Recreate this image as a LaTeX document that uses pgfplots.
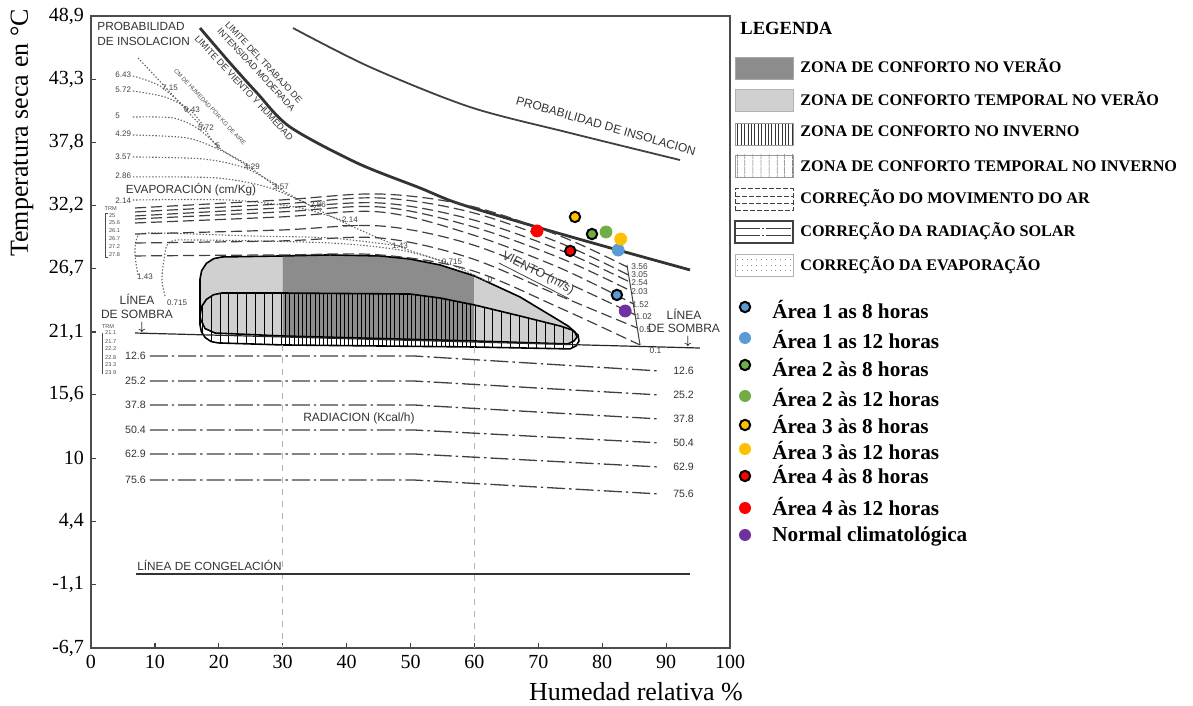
\documentclass[border=0pt]{standalone}
\usepackage{fontspec}
\setmainfont{Liberation Serif}
\setsansfont{Liberation Sans}
\usepackage{pgfplots}
\pgfplotsset{compat=1.18}
\usetikzlibrary{patterns.meta}
\definecolor{cblue}{HTML}{5B9BD5}
\definecolor{cgreen}{HTML}{70AD47}
\definecolor{cyel}{HTML}{FFC000}
\definecolor{cred}{HTML}{FF0000}
\definecolor{cpur}{HTML}{7030A0}
\definecolor{zdark}{HTML}{8C8C8C}
\definecolor{zlight}{HTML}{D0D0D0}
\newcommand{\fs}[1]{\fontsize{#1}{#1}\selectfont}
\pgfplotsset{
 wind/.style={draw=black!75, line width=0.6pt, dash pattern=on 5.5pt off 2.5pt, smooth, tension=0.55},
 rad/.style={draw=black!75, line width=0.65pt, dash pattern=on 9pt off 2pt on 1.2pt off 2pt},
 evap/.style={draw=black!60, line width=0.55pt, dash pattern=on 0.7pt off 0.9pt, smooth, tension=0.5},
 dense/.style={draw=none, pattern={Lines[angle=90,distance=2.1pt,line width=0.45pt]}, pattern color=black},
 sparse/.style={draw=none, pattern={Lines[angle=90,distance=4.4pt,line width=0.45pt]}, pattern color=black},
}
\tikzset{lab/.style={font=\sffamily\fs{4}, text=black!75, inner sep=0.5pt},
 labw/.style={font=\sffamily\fs{4.2}, text=black!75, inner sep=0.5pt, anchor=west},
 lab2/.style={font=\sffamily\fs{5.3}, text=black!80, inner sep=0.5pt},
 trm/.style={font=\sffamily\fs{2.8}, text=black!70, inner sep=0.2pt, anchor=west}}
\begin{document}
\begin{tikzpicture}[x=1pt,y=1pt]
\path[use as bounding box] (-45.5,-29) rectangle (551,324);
\begin{axis}[at={(0,0)}, anchor=south west, scale only axis,
 width=319.5pt, height=316pt,
 xmin=0, xmax=100, ymin=-6.7, ymax=48.9,
 xtick={0,10,...,100},
 ytick={-6.7,-1.1,4.4,10,15.6,21.1,26.7,32.2,37.8,43.3,48.9},
 yticklabels={{-6,7},{-1,1},{4,4},{10},{15,6},{21,1},{26,7},{32,2},{37,8},{43,3},{48,9}},
 tick align=inside, major tick length=2.5pt, tick pos=left,
 tick style={black!75, line width=0.6pt},
 axis line style={black!70, line width=0.7pt},
 tick label style={font=\fs{10}},
 /pgf/number format/assume math mode=true,
 clip=false]

% summer comfort zone fills
\addplot[fill=zlight, draw=none] coordinates {(17.06,22.33)(17.06,25.76)(17.32,26.50)(18.06,27.14)(19.19,27.55)(20.50,27.70)(30,27.79)(30,20.75)(19.41,21.01)(17.85,21.40)} -- cycle;
\addplot[fill=zdark, draw=none] coordinates {(30,27.79)(37.40,27.88)(45.23,27.79)(49.92,27.52)(54.62,27.00)(60,26.03)(60,20.31)(30,20.75)} -- cycle;
\addplot[fill=zlight, draw=none] coordinates {(60,26.03)(67.14,24.18)(72.61,22.33)(74.65,21.63)(75.74,21.10)(76.06,20.66)(75.59,20.31)(74.65,20.05)(60,20.31)} -- cycle;
% winter comfort zone hatching
\addplot[sparse] coordinates {(17.06,21.72)(17.06,22.60)(17.32,23.34)(18.06,23.97)(19.19,24.38)(20.50,24.53)(30,24.53)(30,19.96)(19.87,20.14)(18.79,20.26)(17.89,20.60)(17.28,21.11)} -- cycle;
\addplot[dense] coordinates {(30,24.53)(49.92,24.44)(54.62,24.09)(60,23.48)(60,19.78)(30,19.96)} -- cycle;
\addplot[sparse] coordinates {(60,23.48)(67.14,22.51)(73.40,21.63)(75.27,21.28)(76.21,20.84)(76.37,20.31)(75.90,19.87)(74.96,19.61)(60,19.78)} -- cycle;
% outlines
\addplot[black, line width=0.8pt] coordinates {(17.06,22.33)(17.06,25.76)(17.32,26.50)(18.06,27.14)(19.19,27.55)(20.50,27.70)(30,27.79)(37.40,27.88)(45.23,27.79)(49.92,27.52)(54.62,27.00)(60,26.03)(67.14,24.18)(72.61,22.33)(74.65,21.63)(75.74,21.10)(76.06,20.66)(75.59,20.31)(74.65,20.05)(60,20.31)(30,20.75)(19.41,21.01)(17.85,21.40)} -- cycle;
\addplot[black, line width=0.8pt] coordinates {(17.06,22.60)(17.32,23.34)(18.06,23.97)(19.19,24.38)(20.50,24.53)(30,24.53)(49.92,24.44)(54.62,24.09)(60,23.48)(67.14,22.51)(73.40,21.63)(75.27,21.28)(76.21,20.84)(76.37,20.31)(75.90,19.87)(74.96,19.61)(60,19.78)(30,19.96)(19.87,20.14)(18.79,20.26)(17.89,20.60)(17.28,21.11)(17.06,21.72)} -- cycle;

% vertical guide lines
\addplot[black!30, dashed, line width=0.4pt] coordinates {(30,19.96)(30,-6.7)};
\addplot[black!30, dashed, line width=0.4pt] coordinates {(60,19.78)(60,-6.7)};

% shade line and freezing line
\addplot[black!85, line width=0.6pt] coordinates {(6.89,21.01)(95.3,19.69)};
\addplot[black!80, line width=0.6pt] coordinates {(7.04,-0.19)(93.7,-0.19)};

% top curve: probabilidad de insolacion
\addplot[black!75, line width=0.9pt, smooth] coordinates {(31.61,47.84)(43.66,44.41)(59.31,40.89)(74.96,38.61)(92.18,36.23)};
% limit line
\addplot[black!80, line width=1.4pt, smooth, tension=0.5] coordinates {(17.06,47.84)(21.75,44.77)(25.98,42.13)(31.14,39.14)(41.63,35.97)(51.49,33.77)(57.28,32.45)(68.70,30.51)(79.66,28.75)(93.74,26.56)};

% evaporation dotted lines
\addplot[evap] coordinates {(7.36,45.21)(12.05,42.39)(15.18,40.45)(17.84,38.87)(19.87,37.38)(25.20,35.44)(29.58,33.68)(34.74,32.10)(40.06,30.60)(48.36,28.58)(56.18,27.08)(62.13,25.50)};
\addplot[evap] coordinates {(6.57,43.62)(10.80,42.74)(15.18,40.63)};
\addplot[evap] coordinates {(6.57,42.30)(11.58,41.77)(15.49,40.63)(17.84,39.05)};
\addplot[evap] coordinates {(6.57,40.01)(12.83,39.93)(16.59,39.05)(19.87,37.46)};
\addplot[evap] coordinates {(6.57,38.43)(15.02,38.17)(20.19,37.11)(25.20,35.62)};
\addplot[evap] coordinates {(6.57,36.50)(17.53,36.32)(24.10,35.53)(29.58,33.86)};
\addplot[evap] coordinates {(6.57,34.74)(19.72,34.65)(28.01,33.77)(34.74,32.10)};
\addplot[evap] coordinates {(6.57,32.71)(21.75,32.71)(32.71,32.01)(40.06,30.78)};
\addplot[evap] coordinates {(7.36,26.12)(6.89,27.88)(7.20,29.37)(9.23,29.81)(24.88,29.55)(37.40,29.37)(48.36,28.67)};
\addplot[evap] coordinates {(11.58,24.27)(11.11,25.68)(11.42,27.44)(12.36,29.02)(17.06,29.19)(37.40,28.93)(48.36,28.31)(55.40,27.26)};

% wind lines
\addplot[wind] coordinates {(6.89,32.01)(29.58,32.71)(45.23,33.24)(59.31,32.19)(73.40,29.55)(83.9,26.82)};
\addplot[wind] coordinates {(6.89,31.66)(29.58,32.36)(45.23,32.89)(59.31,31.66)(73.40,28.93)(84.1,26.12)};
\addplot[wind] coordinates {(6.89,31.31)(29.58,32.01)(45.23,32.45)(59.31,31.04)(73.40,28.31)(84.3,25.50)};
\addplot[wind] coordinates {(6.89,31.04)(29.58,31.66)(45.23,32.10)(59.31,30.43)(73.40,27.61)(84.5,24.71)};
\addplot[wind] coordinates {(6.89,30.69)(29.58,31.22)(45.23,31.66)(59.31,29.72)(73.40,26.73)(84.9,23.57)};
\addplot[wind] coordinates {(6.89,29.72)(29.58,30.07)(45.23,30.43)(59.31,28.84)(73.40,25.68)(85.2,22.60)};
\addplot[wind] coordinates {(6.89,28.93)(29.58,29.11)(45.23,29.37)(59.31,27.61)(73.40,24.27)(85.5,21.45)};
\addplot[wind] coordinates {(6.89,27.79)(29.58,27.88)(45.23,27.88)(59.31,26.56)(73.40,23.21)(85.9,19.96)};
\addplot[black!75, line width=0.5pt] coordinates {(83.88,26.99)(85.92,19.96)};

% radiation lines
\addplot[rad] coordinates {(9.2,18.99)(50.5,18.99)(89,17.67)};
\addplot[rad] coordinates {(9.2,16.79)(50.5,16.79)(89,15.56)};
\addplot[rad] coordinates {(9.2,14.68)(50.5,14.68)(89,13.45)};
\addplot[rad] coordinates {(9.2,12.48)(50.5,12.48)(89,11.34)};
\addplot[rad] coordinates {(9.2,10.37)(50.5,10.37)(89,9.22)};
\addplot[rad] coordinates {(9.2,8.08)(50.5,8.08)(89,6.85)};

% data points
\addplot[only marks, mark=*, mark size=2.6pt, mark options={fill=cblue, draw=black, line width=1pt}] coordinates {(82.3,24.36)};
\addplot[only marks, mark=*, mark size=3pt, mark options={fill=cblue, draw=cblue}] coordinates {(82.5,28.31)};
\addplot[only marks, mark=*, mark size=2.6pt, mark options={fill=cgreen, draw=black, line width=1pt}] coordinates {(78.4,29.72)};
\addplot[only marks, mark=*, mark size=3pt, mark options={fill=cgreen, draw=cgreen}] coordinates {(80.6,29.90)};
\addplot[only marks, mark=*, mark size=2.6pt, mark options={fill=cyel, draw=black, line width=1pt}] coordinates {(75.74,31.22)};
\addplot[only marks, mark=*, mark size=3pt, mark options={fill=cyel, draw=cyel}] coordinates {(82.9,29.28)};
\addplot[only marks, mark=*, mark size=2.6pt, mark options={fill=cred, draw=black, line width=1pt}] coordinates {(75.0,28.23)};
\addplot[only marks, mark=*, mark size=3pt, mark options={fill=cred, draw=cred}] coordinates {(69.8,29.99)};
\addplot[only marks, mark=*, mark size=3pt, mark options={fill=cpur, draw=cpur}] coordinates {(83.6,22.95)};

% anchor coordinates for texts placed after the axis
\coordinate (tEvap) at (axis cs:15.65,33.59);
\coordinate (tSomL) at (axis cs:7.2,23.34);
\coordinate (tSomR) at (axis cs:92.8,22.07);
\coordinate (tCong) at (axis cs:7.04,-0.05);

% texts
\node[anchor=north west, align=left, font=\sffamily\fontsize{5.9}{7.4}\selectfont, text=black!80, inner sep=0] at (axis cs:0.94,48.37) {PROBABILIDAD\\DE INSOLACION};
\node[rotate=-16, font=\sffamily\fs{6}, text=black!80] at (axis cs:80.6,39.22) {PROBABILIDAD DE INSOLACION};
\node[rotate=-47, align=center, font=\sffamily\fontsize{4.5}{5.2}\selectfont, text=black!80] at (axis cs:26.45,44.50) {LIMITE DEL TRABAJO DE\\INTENSIDAD MODERADA};
\node[rotate=-47, font=\sffamily\fs{4.6}, text=black!80] at (axis cs:23.94,42.57) {LIMITE DE VIENTO Y HUMEDAD};
\node[rotate=-47, font=\sffamily\fs{3}, text=black!70] at (axis cs:18.62,40.89) {CM DE HUMEDAD POR KG DE AIRE};
\node[lab, anchor=west] at (axis cs:3.6,43.71) {6.43};
\node[lab, anchor=west] at (axis cs:3.6,42.39) {5.72};
\node[lab, anchor=west] at (axis cs:3.6,40.10) {5};
\node[lab, anchor=west] at (axis cs:3.6,38.52) {4.29};
\node[lab, anchor=west] at (axis cs:3.6,36.50) {3.57};
\node[lab, anchor=west] at (axis cs:3.6,34.83) {2.86};
\node[lab, anchor=west] at (axis cs:3.6,32.63) {2.14};
\node[lab] at (axis cs:12.36,42.57) {7.15};
\node[lab] at (axis cs:15.81,40.63) {6.43};
\node[lab] at (axis cs:18.0,39.05) {5.72};
\node[lab] at (axis cs:19.87,37.46) {5};
\node[lab] at (axis cs:25.2,35.62) {4.29};
\node[lab] at (axis cs:29.73,33.86) {3.57};
\node[lab] at (axis cs:35.52,32.27) {2.86};
\node[lab] at (axis cs:40.53,30.78) {\underline{2.14}};
\node[lab] at (axis cs:48.36,28.67) {1.43};
\node[lab] at (axis cs:56.49,27.26) {0.715};
\node[lab] at (axis cs:62.44,25.68) {0};
\node[lab] at (axis cs:8.45,25.94) {1.43};
\node[lab] at (axis cs:13.46,23.65) {0.715};
\node[rotate=-27, font=\sffamily\fs{6.3}, text=black!75] at (axis cs:69.8,26.12) {\underline{VIENTO (m/s)}};
\node[labw] at (axis cs:84.35,26.82) {3.56};
\node[labw] at (axis cs:84.35,26.12) {3.05};
\node[labw] at (axis cs:84.35,25.41) {2.54};
\node[labw] at (axis cs:84.35,24.62) {2.03};
\node[labw] at (axis cs:84.5,23.48) {1.52};
\node[labw] at (axis cs:85.0,22.42) {1.02};
\node[labw] at (axis cs:85.6,21.28) {0.5};
\node[labw] at (axis cs:87.2,19.43) {0.1};
\node[anchor=south, inner sep=0pt, font=\fs{6}] at (axis cs:7.98,20.95) {$\downarrow$};
\node[anchor=south, inner sep=0pt, font=\fs{6}] at (axis cs:93.4,19.75) {$\downarrow$};
\node[lab2, font=\sffamily\fs{6}] at (axis cs:41.94,13.54) {RADIACION (Kcal/h)};
\node[lab2, anchor=east] at (axis cs:8.8,18.99) {12.6};
\node[lab2, anchor=east] at (axis cs:8.8,16.79) {25.2};
\node[lab2, anchor=east] at (axis cs:8.8,14.68) {37.8};
\node[lab2, anchor=east] at (axis cs:8.8,12.48) {50.4};
\node[lab2, anchor=east] at (axis cs:8.8,10.37) {62.9};
\node[lab2, anchor=east] at (axis cs:8.8,8.08) {75.6};
\node[lab2, anchor=west] at (axis cs:90.9,17.67) {12.6};
\node[lab2, anchor=west] at (axis cs:90.9,15.56) {25.2};
\node[lab2, anchor=west] at (axis cs:90.9,13.45) {37.8};
\node[lab2, anchor=west] at (axis cs:90.9,11.34) {50.4};
\node[lab2, anchor=west] at (axis cs:90.9,9.22) {62.9};
\node[lab2, anchor=west] at (axis cs:90.9,6.85) {75.6};
% TRM brackets
\addplot[black!70, line width=0.35pt] coordinates {(2.6,31.57)(2.19,31.57)(2.19,27.70)(2.6,27.70)};
\addplot[black!70, line width=0.35pt] coordinates {(1.9,21.01)(1.72,21.01)(1.72,17.49)(1.9,17.49)};
\node[trm] at (axis cs:2.0,31.95) {TRM};
\node[trm] at (axis cs:2.7,31.31) {25};
\node[trm] at (axis cs:2.7,30.69) {25.6};
\node[trm] at (axis cs:2.7,29.99) {26.1};
\node[trm] at (axis cs:2.7,29.28) {26.7};
\node[trm] at (axis cs:2.7,28.58) {27.2};
\node[trm] at (axis cs:2.7,27.88) {27.8};
\node[trm] at (axis cs:1.6,21.54) {TRM};
\node[trm] at (axis cs:2.1,21.01) {21.1};
\node[trm] at (axis cs:2.1,20.22) {21.7};
\node[trm] at (axis cs:2.1,19.61) {22.2};
\node[trm] at (axis cs:2.1,18.81) {22.8};
\node[trm] at (axis cs:2.1,18.20) {23.3};
\node[trm] at (axis cs:2.1,17.49) {23.9};
\end{axis}

% texts with accented letters
\node[font=\sffamily\fs{5.9}, text=black!80] at (tEvap) {EVAPORACIÓN (cm/Kg)};
\node[align=center, font=\sffamily\fontsize{6}{7.3}\selectfont, text=black!80, inner sep=0.5pt] at (tSomL) {LÍNEA\\DE SOMBRA};
\node[align=center, font=\sffamily\fontsize{6}{6.2}\selectfont, text=black!80, inner sep=0.5pt] at (tSomR) {LÍNEA\\DE SOMBRA};
\node[font=\sffamily\fs{5.9}, text=black!80, inner sep=0.5pt, anchor=south west] at (tCong) {LÍNEA DE CONGELACIÓN};

% axis titles
\node[rotate=90, font=\fs{13}] at (-34.5,257.5) {Temperatura seca en °C};
\node[font=\fs{13}] at (272.5,-22) {Humedad relativa \%};

% legend
\node[anchor=west, font=\bfseries\fs{9.3}, inner sep=0] at (324.5,310) {LEGENDA};
\draw[black!35, fill=zdark] (322,284.5) rectangle (351,295.5);
\draw[black!30, fill=zlight] (322,268.5) rectangle (351,279.5);
\draw[black!40, pattern={Lines[angle=90,distance=1.7pt,line width=0.4pt]}, pattern color=black!80] (322,251.5) rectangle (351,262.5);
\draw[black!40, pattern={Lines[angle=90,distance=4pt,line width=0.4pt]}, pattern color=black!80] (322,235.5) rectangle (351,246.5);
\draw[black!75, line width=0.5pt, dash pattern=on 2.5pt off 1pt] (322,218.5) rectangle (351,229.5);
\draw[black!75, line width=0.5pt, dash pattern=on 2.5pt off 1pt] (322,222.2) -- (351,222.2) (322,225.8) -- (351,225.8);
\draw[black!75, line width=0.6pt] (322,202.5) rectangle (351,213.5);
\draw[black!75, line width=0.6pt, dash pattern=on 12.5pt off 1pt on 0.8pt off 1pt] (322,206.2) -- (351,206.2) (322,209.8) -- (351,209.8);
\draw[black!30] (322,186) rectangle (351,197);
\draw[black!45, dotted] (323,188.8) -- (350,188.8) (323,191.5) -- (350,191.5) (323,194.2) -- (350,194.2);
\node[anchor=west, font=\bfseries\fs{8.1}, inner sep=0] at (354.5,291) {ZONA DE CONFORTO NO VERÃO};
\node[anchor=west, font=\bfseries\fs{8.1}, inner sep=0] at (354.5,274.5) {ZONA DE CONFORTO TEMPORAL NO VERÃO};
\node[anchor=west, font=\bfseries\fs{8.1}, inner sep=0] at (354.5,258.5) {ZONA DE CONFORTO NO INVERNO};
\node[anchor=west, font=\bfseries\fs{8.1}, inner sep=0] at (354.5,241) {ZONA DE CONFORTO TEMPORAL NO INVERNO};
\node[anchor=west, font=\bfseries\fs{8.1}, inner sep=0] at (354.5,225) {CORREÇÃO DO MOVIMENTO DO AR};
\node[anchor=west, font=\bfseries\fs{8.1}, inner sep=0] at (354.5,208.5) {CORREÇÃO DA RADIAÇÃO SOLAR};
\node[anchor=west, font=\bfseries\fs{8.1}, inner sep=0] at (354.5,191.5) {CORREÇÃO DA EVAPORAÇÃO};
\draw[black, line width=1pt, fill=cblue] (327,170.5) circle (2.6);
\fill[cblue] (327,155) circle (3);
\draw[black, line width=1pt, fill=cgreen] (327,141.5) circle (2.6);
\fill[cgreen] (327,126) circle (3);
\draw[black, line width=1pt, fill=cyel] (327,111.5) circle (2.6);
\fill[cyel] (327,99.5) circle (3);
\draw[black, line width=1pt, fill=cred] (327,86) circle (2.6);
\fill[cred] (327,70) circle (3);
\fill[cpur] (327,56.5) circle (3);
\node[anchor=west, font=\bfseries\fs{10.6}, inner sep=0] at (340.5,169) {Área 1 as 8 horas};
\node[anchor=west, font=\bfseries\fs{10.6}, inner sep=0] at (340.5,154) {Área 1 as 12 horas};
\node[anchor=west, font=\bfseries\fs{10.6}, inner sep=0] at (340.5,140) {Área 2 às 8 horas};
\node[anchor=west, font=\bfseries\fs{10.6}, inner sep=0] at (340.5,125) {Área 2 às 12 horas};
\node[anchor=west, font=\bfseries\fs{10.6}, inner sep=0] at (340.5,111.5) {Área 3 às 8 horas};
\node[anchor=west, font=\bfseries\fs{10.6}, inner sep=0] at (340.5,98.5) {Área 3 às 12 horas};
\node[anchor=west, font=\bfseries\fs{10.6}, inner sep=0] at (340.5,86.5) {Área 4 às 8 horas};
\node[anchor=west, font=\bfseries\fs{10.6}, inner sep=0] at (340.5,70.5) {Área 4 às 12 horas};
\node[anchor=west, font=\bfseries\fs{10.6}, inner sep=0] at (340.5,56) {Normal climatológica};
\end{tikzpicture}
\end{document}
